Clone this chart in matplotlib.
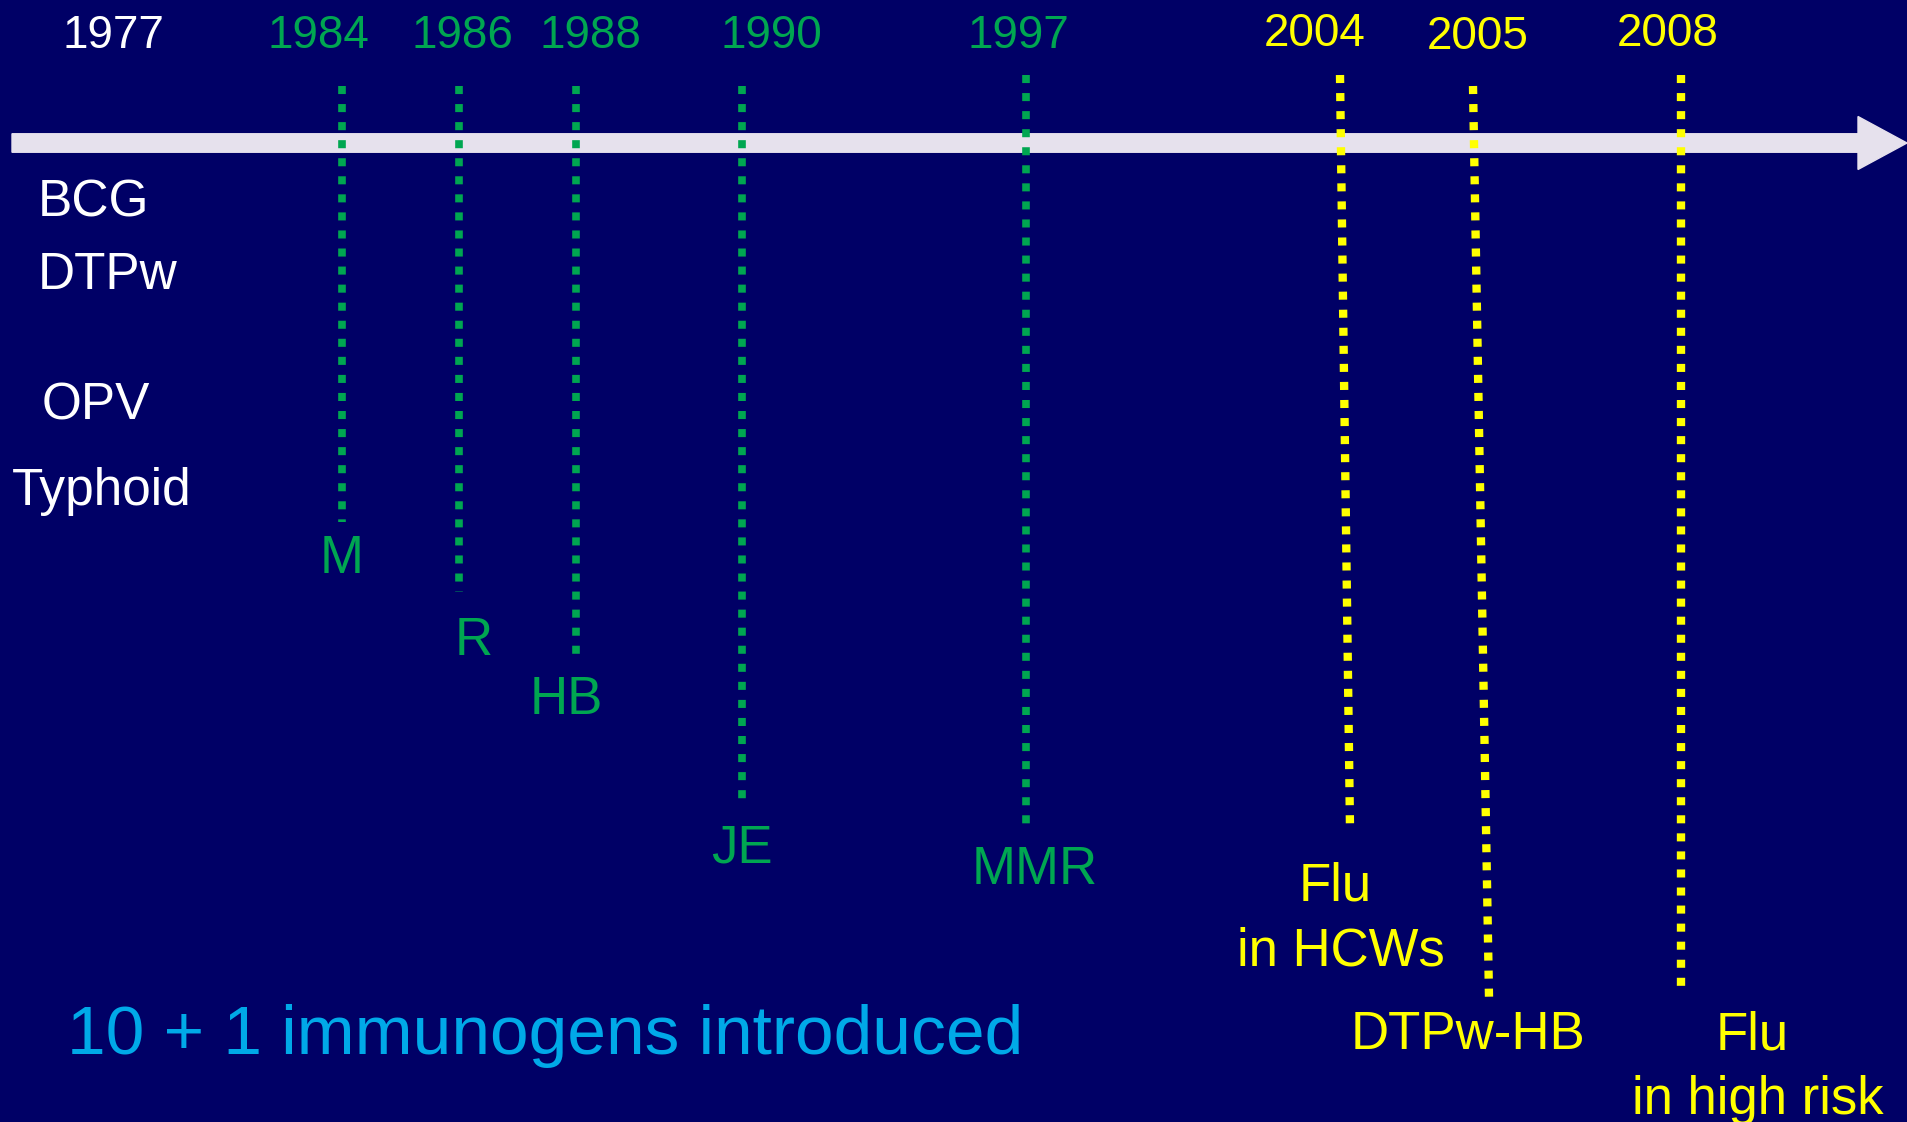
import matplotlib
matplotlib.use('Agg')
import matplotlib.pyplot as plt
from matplotlib.patches import FancyArrow

plt.rcParams['font.family'] = ['Liberation Sans', 'DejaVu Sans']

# data
start_year = '1977'
start_vaccines = ['BCG', 'DTPw', 'OPV', 'Typhoid']
intro_years = ['1984', '1986', '1988', '1990', '1997', '2004', '2005', '2008']
intro_vaccines = ['M', 'R', 'HB', 'JE', 'MMR', 'Flu\nin HCWs', 'DTPw-HB', 'Flu\nin high risk']
intro_group = ['old', 'old', 'old', 'old', 'old', 'new', 'new', 'new']
summary = '10 + 1 immunogens introduced'

# layout (pixels of the slide)
W, H = 1907, 1122
year_x = [318, 462, 590, 771, 1018, 1315, 1478, 1668]
year_base = [48, 48, 48, 48, 48, 46, 49, 46]
line_top = [(342, 86), (459, 86), (576, 86), (742, 86), (1026, 75), (1340, 75), (1473, 86), (1681, 75)]
line_bot = [(342, 522), (459, 592), (576, 660), (742, 803), (1026, 827), (1350, 828), (1489, 997), (1681, 987)]
label_pos = [(342, 573), (474, 655), (566, 714), (742, 862), (1035, 884),
             (1335, 900), (1468, 1049), (1752, 1049)]
start_pos = [(38, 216), (38, 289), (42, 419), (12, 505)]

bg = '#000066'
colors = {'old': '#00A651', 'new': '#FFFF00'}
line_w = {'old': 5.5, 'new': 6.0}

fig = plt.figure(figsize=(W / 100, H / 100), dpi=100)
fig.patch.set_facecolor(bg)
ax = fig.add_axes([0, 0, 1, 1])
ax.set_xlim(0, W)
ax.set_ylim(H, 0)
ax.axis('off')

# time arrow
ax.add_patch(FancyArrow(12, 143, W - 12, 0, width=18.5, head_width=53, head_length=49,
                        length_includes_head=True, color='#E6E1ED', zorder=1))

# start year and first vaccines
ax.text(113, 48, start_year, color='white', fontsize=33, ha='center', va='baseline')
for name, (x, y) in zip(start_vaccines, start_pos):
    ax.text(x, y, name, color='white', fontsize=37, ha='left', va='baseline')

# introductions
for i, (yr, vac, grp) in enumerate(zip(intro_years, intro_vaccines, intro_group)):
    c = colors[grp]
    lw = line_w[grp]
    ax.text(year_x[i], year_base[i], yr, color=c, fontsize=33, ha='center', va='baseline')
    (x0, y0), (x1, y1) = line_top[i], line_bot[i]
    ax.plot([x0, x1], [y0, y1], color=c, lw=lw, linestyle=(0, (5.8 / lw, 7.2 / lw)),
            solid_capstyle='butt', dash_capstyle='butt', zorder=2)
    lx, ly = label_pos[i]
    lines = vac.split('\n')
    ax.text(lx, ly, lines[0], color=c, fontsize=38, ha='center', va='baseline')
    if len(lines) > 1:
        ax.text(lx + 6, ly + 65, lines[1], color=c, fontsize=38, ha='center', va='baseline')

ax.text(67, 1054, summary, color='#00A9E8', fontsize=50, ha='left', va='baseline')

fig.savefig('out.png', dpi=100, facecolor=bg)
